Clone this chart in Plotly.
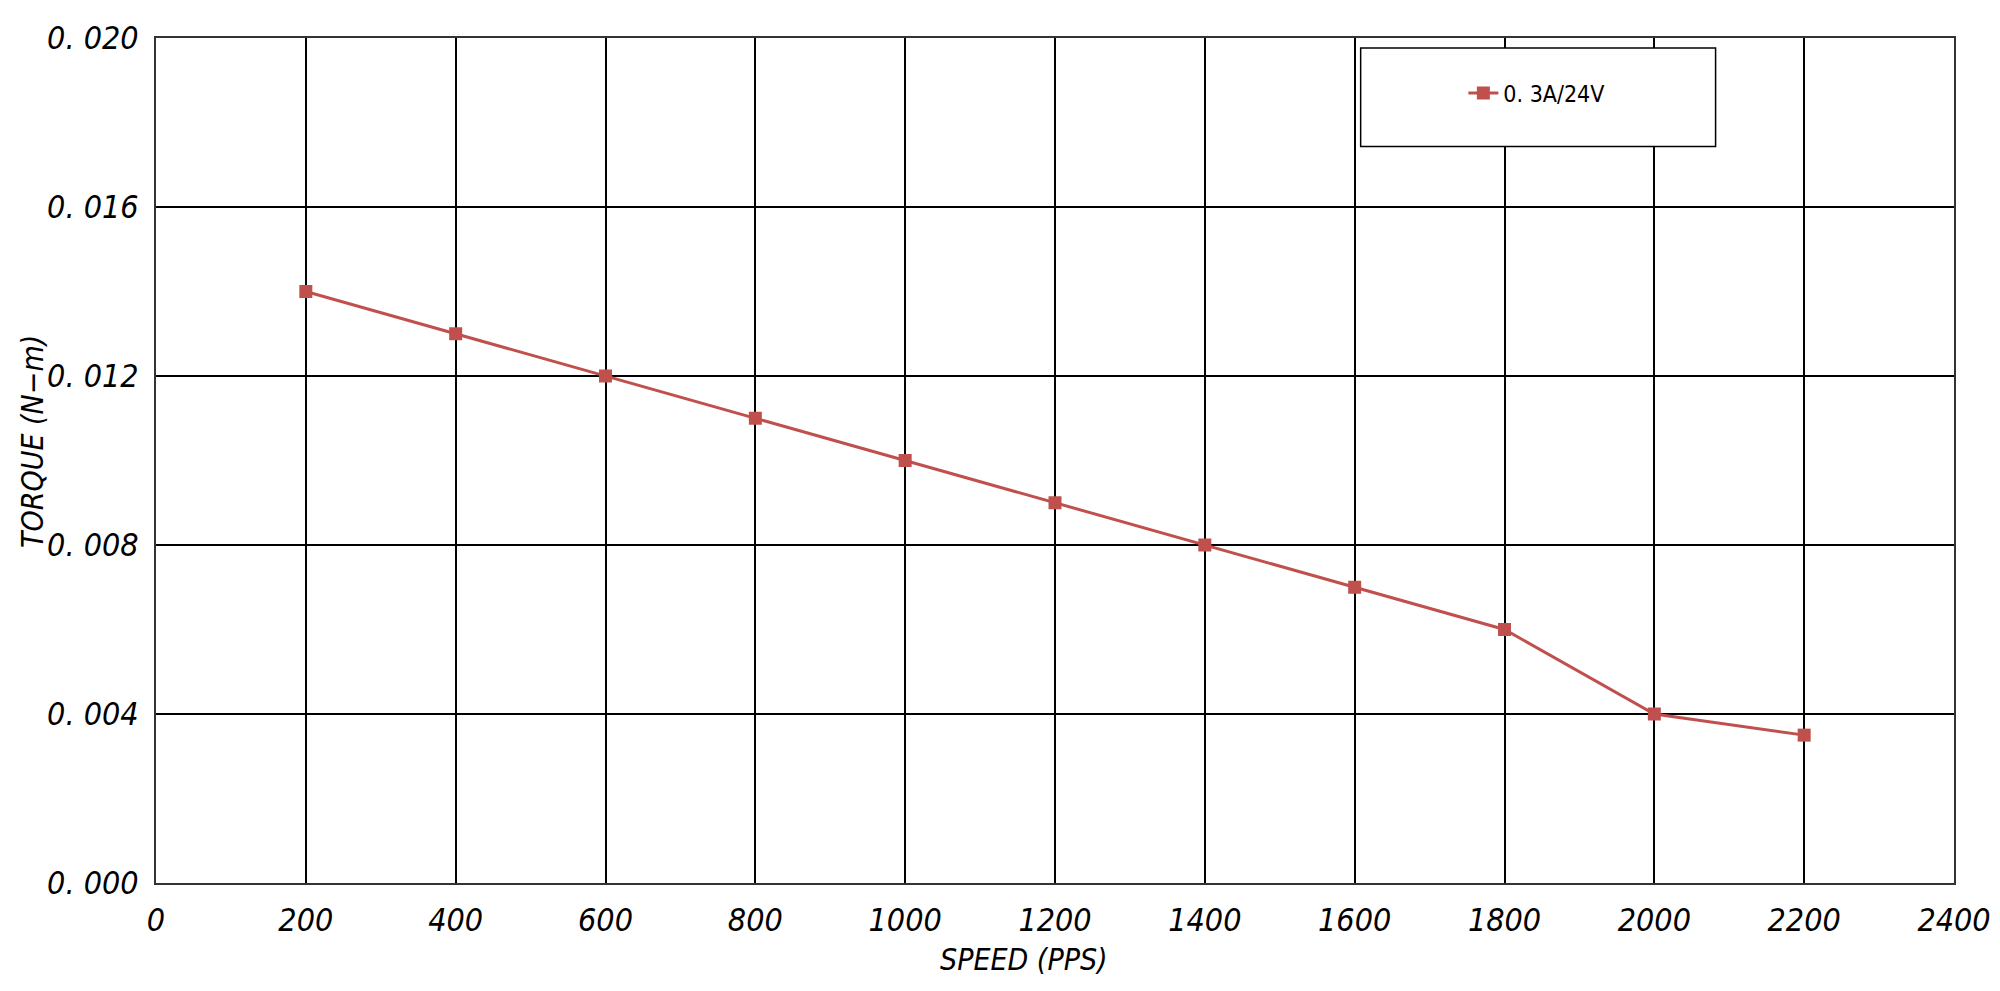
import plotly.graph_objs as go

# speed (pps) vs torque (N-m)
speed = [200, 400, 600, 800, 1000, 1200, 1400, 1600, 1800, 2000, 2200]
torque = [0.014, 0.013, 0.012, 0.011, 0.010, 0.009, 0.008, 0.007, 0.006, 0.004, 0.0035]
series_name = '0. 3A/24V'

x_ticks = [0, 200, 400, 600, 800, 1000, 1200, 1400, 1600, 1800, 2000, 2200, 2400]
y_ticks = [0.000, 0.004, 0.008, 0.012, 0.016, 0.020]
y_tick_text = ['0. 000', '0. 004', '0. 008', '0. 012', '0. 016', '0. 020']

narrow = 'Liberation Sans Narrow, DejaVu Sans Condensed, Arial Narrow, sans-serif'
red = '#C0504D'

trace = go.Scatter(x=speed, y=torque, name=series_name, mode='lines+markers',
                   line=dict(color=red, width=3),
                   marker=dict(symbol='square', size=13, color=red))

fig = go.Figure(data=[trace])

title_font = dict(family=narrow, size=30, color='black', style='italic')

fig.update_layout(
    width=2000, height=991,
    margin=dict(l=156, r=46, t=38, b=108, autoexpand=False),
    paper_bgcolor='white', plot_bgcolor='white',
    showlegend=True,
    legend=dict(x=0.768, y=0.935, xanchor='center', yanchor='middle',
                bgcolor='rgba(0,0,0,0)', borderwidth=0,
                font=dict(family=narrow, size=23, color='black')),
    shapes=[dict(type='rect', xref='paper', yref='paper',
                 x0=0.67, x1=0.8674, y0=0.8716, y1=0.9882,
                 line=dict(color='black', width=1.5), fillcolor='white', layer='above')],
    annotations=[
        dict(text='SPEED (PPS)', xref='paper', yref='paper', x=0.483, y=-0.09,
             xanchor='center', yanchor='middle', showarrow=False, font=title_font),
        dict(text='TORQUE (N\u2212m)', xref='paper', yref='paper', x=-0.069, y=0.523,
             xanchor='center', yanchor='middle', textangle=-90, showarrow=False, font=title_font),
    ],
)

fig.update_xaxes(range=[0, 2400], tickvals=x_ticks, showgrid=True,
                 gridcolor='black', gridwidth=1.5, zeroline=False,
                 showline=True, linecolor='#333333', linewidth=2, mirror=True,
                 ticks='', ticklen=0, ticklabelstandoff=8, automargin=False,
                 tickfont=dict(family=narrow, size=32, color='black', style='italic'))

fig.update_yaxes(range=[0, 0.020], tickvals=y_ticks, ticktext=y_tick_text, showgrid=True,
                 gridcolor='black', gridwidth=1.5, zeroline=False,
                 showline=True, linecolor='#333333', linewidth=2, mirror=True,
                 ticks='', ticklen=0, ticklabelstandoff=9, automargin=False,
                 tickfont=dict(family=narrow, size=32, color='black', style='italic'))

# drop the default page margin so the figure sits at the window's corner
fig.write_html("out.html", config={'displayModeBar': False},
               post_script="document.body.style.margin='0';")
